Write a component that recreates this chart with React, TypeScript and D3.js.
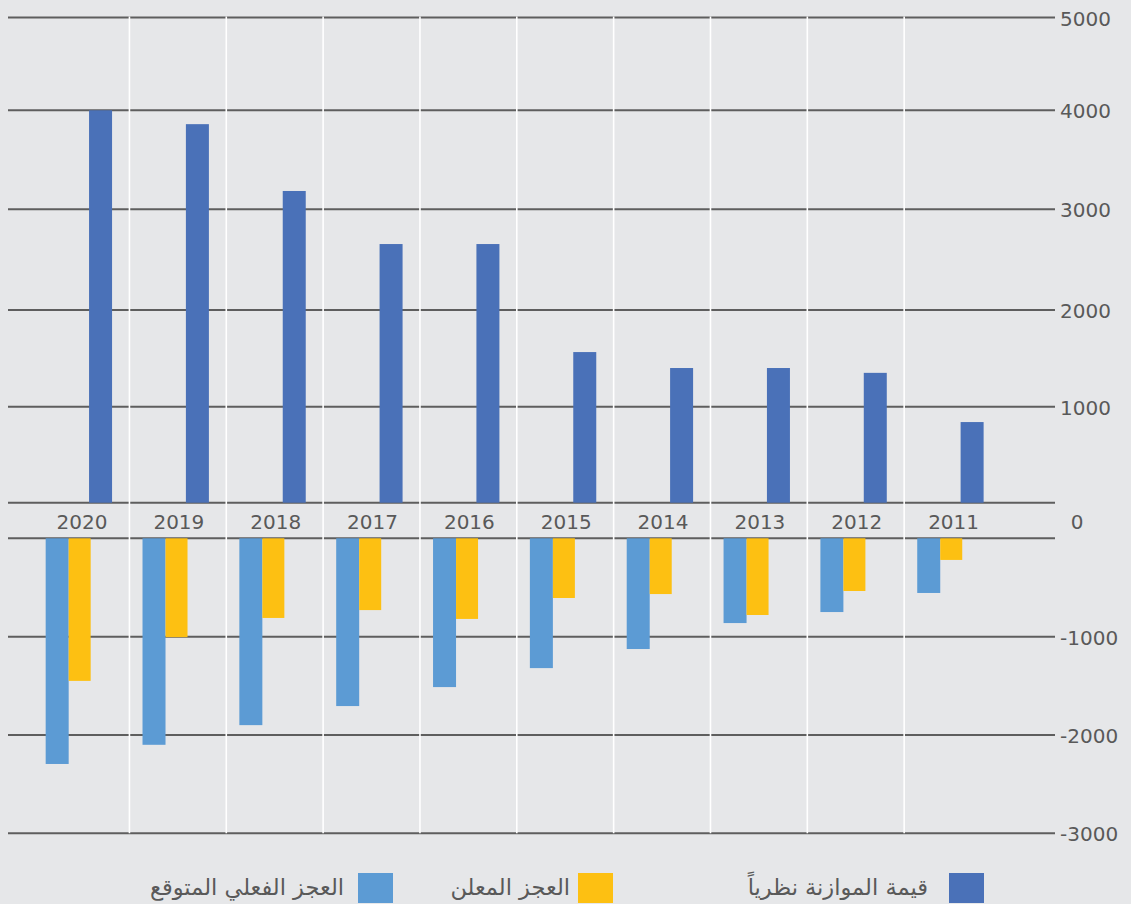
import { scaleBand, scaleLinear } from "d3";

const years = ["2020", "2019", "2018", "2017", "2016", "2015", "2014", "2013", "2012", "2011"];
const budgetValue = [4000, 3860, 3185, 2655, 2655, 1565, 1400, 1400, 1350, 840];
const declaredDeficit = [-1450, -1005, -810, -730, -820, -607, -567, -780, -536, -220];
const actualDeficit = [-2295, -2100, -1900, -1706, -1513, -1320, -1126, -862, -750, -556];

const topTicks = [5000, 4000, 3000, 2000, 1000, 0];
const bottomTicks = [0, -1000, -2000, -3000];

const legendItems = [
  { label: "قيمة الموازنة نظرياً", color: "#4a71b8" },
  { label: "العجز المعلن", color: "#fdc012" },
  { label: "العجز الفعلي المتوقع", color: "#5c9bd4" },
];

const W = 1131;
const H = 904;
const BG = "#e6e7e9";
const GRID = "#5e5e5e";
const TEXT = "#595959";
const FONT = "'DejaVu Sans', sans-serif";

export default function App() {
  const x = scaleBand<string>().domain(years).range([32.6, 1001]);
  // measured gridline positions of the upper panel
  const yTop = scaleLinear()
    .domain([0, 1000, 2000, 3000, 4000, 5000])
    .range([502.7, 406.7, 310, 209.3, 110.3, 17.5]);
  const yBot = scaleLinear().domain([0, -3000]).range([538.3, 833.3]);

  const gridX0 = 8;
  const gridX1 = 1055;
  const step = x.step();
  const legendX = [949, 578, 358];
  const legendTextX = [928, 570, 344];

  return (
    <div style={{ position: "absolute", left: 0, top: 0 }}>
      <svg width={W} height={H} style={{ display: "block" }}>
        <rect width={W} height={H} fill={BG} />

        {topTicks.map((t) => (
          <line key={"gt" + t} x1={gridX0} x2={gridX1} y1={yTop(t)} y2={yTop(t)} stroke={GRID} strokeWidth={2} />
        ))}
        {bottomTicks.map((t) => (
          <line key={"gb" + t} x1={gridX0} x2={gridX1} y1={yBot(t)} y2={yBot(t)} stroke={GRID} strokeWidth={2} />
        ))}

        {years.slice(1).map((y) => (
          <line key={"v" + y} x1={x(y)!} x2={x(y)!} y1={yTop(5000) - 1} y2={yBot(-3000)} stroke="#ffffff" strokeWidth={1.6} />
        ))}

        {years.map((y, i) => (
          <rect
            key={"b" + y}
            x={x(y)! + step * 0.583}
            y={yTop(budgetValue[i])}
            width={23}
            height={yTop(0) - yTop(budgetValue[i])}
            fill={legendItems[0].color}
          />
        ))}
        {years.map((y, i) => (
          <rect
            key={"a" + y}
            x={x(y)! + step * 0.135}
            y={yBot(0)}
            width={23}
            height={yBot(actualDeficit[i]) - yBot(0)}
            fill={legendItems[2].color}
          />
        ))}
        {years.map((y, i) => (
          <rect
            key={"d" + y}
            x={x(y)! + step * 0.135 + 23}
            y={yBot(0)}
            width={22}
            height={yBot(declaredDeficit[i]) - yBot(0)}
            fill={legendItems[1].color}
          />
        ))}

        {years.map((y) => (
          <text
            key={"l" + y}
            x={x(y)! + step / 2 + 1}
            y={522}
            textAnchor="middle"
            dominantBaseline="central"
            fontFamily={FONT}
            fontSize={20}
            fill={TEXT}
          >
            {y}
          </text>
        ))}

        {topTicks.filter((t) => t !== 0).map((t) => (
          <text key={"tt" + t} x={1060} y={yTop(t) + 1} dominantBaseline="central" fontFamily={FONT} fontSize={20} fill={TEXT}>
            {t}
          </text>
        ))}
        {bottomTicks.filter((t) => t !== 0).map((t) => (
          <text key={"tb" + t} x={1060} y={yBot(t) + 1} dominantBaseline="central" fontFamily={FONT} fontSize={20} fill={TEXT}>
            {t}
          </text>
        ))}
        <text x={1077} y={522} textAnchor="middle" dominantBaseline="central" fontFamily={FONT} fontSize={20} fill={TEXT}>
          0
        </text>

        {legendItems.map((d, i) => (
          <g key={"lg" + i}>
            <rect x={legendX[i]} y={873} width={35} height={30} fill={d.color} />
            <text
              x={legendTextX[i]}
              y={887}
              textAnchor="end"
              dominantBaseline="central"
              fontFamily={FONT}
              fontSize={22.5}
              fill={TEXT}
            >
              {d.label}
            </text>
          </g>
        ))}
      </svg>
    </div>
  );
}
